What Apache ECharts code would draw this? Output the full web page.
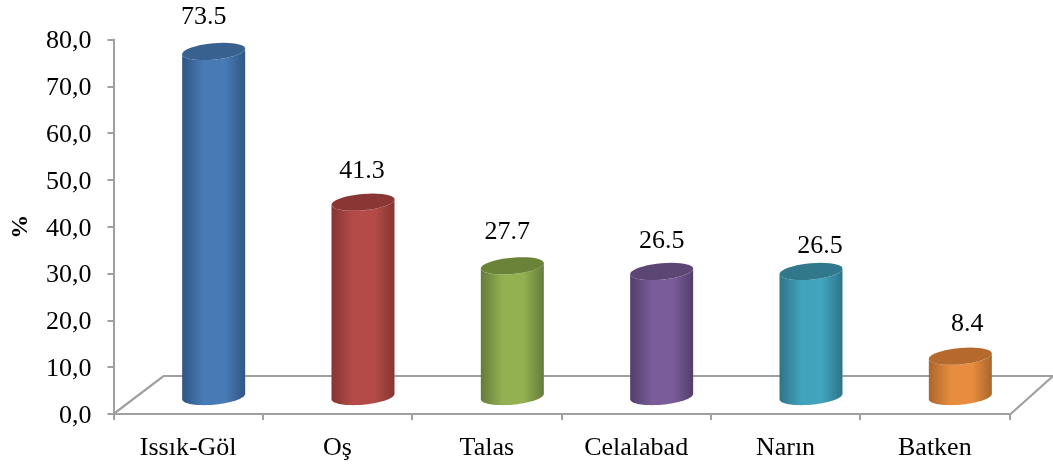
<!DOCTYPE html>
<html>
<head>
<meta charset="utf-8">
<style>
  html, body { margin: 0; padding: 0; background: #fff; }
  #main { width: 1053px; height: 464px; }
</style>
<script src="https://cdn.jsdelivr.net/npm/echarts@6/dist/echarts.min.js"></script>
</head>
<body>
<div id="main"></div>
<script>
const categories = ['Issık-Göl', 'Oş', 'Talas', 'Celalabad', 'Narın', 'Batken'];
const values = [73.5, 41.3, 27.7, 26.5, 26.5, 8.4];
const tickLabels = ['0,0', '10,0', '20,0', '30,0', '40,0', '50,0', '60,0', '70,0', '80,0'];

// edge, middle, top cap
const barColors = [
    ['#305685', '#487bb6', '#38618f'],
    ['#843533', '#b54b48', '#8a3634'],
    ['#667b3b', '#93b151', '#6b8239'],
    ['#523e6c', '#7a5c9a', '#5c4673'],
    ['#2e7488', '#42a3bd', '#31788c'],
    ['#ab662c', '#e88d40', '#b5692c']
];
// data labels were moved by hand in the original
const labelNudge = [[-10, -34], [-1, -31], [-5, -34], [0, -30], [9, -25], [7, -32]];

const depthX = 25.5, depthY = -18.5, baseY = -17.5;
const radiusX = 31.5, radiusY = 8.2, tilt = 2.7;
const gridGrey = '#a0a0a0';

// tilted ellipse, from angle a to angle b
const arc = (cx, cy, a, b) => {
    let pts = [];
    for (let i = 0; i <= 40; i++) {
        let t = a + (b - a) * i / 40;
        pts.push([cx + radiusX * Math.cos(t), cy + radiusY * Math.sin(t) - tilt * Math.cos(t)]);
    }
    return pts;
};

const renderCylinder = (params, api) => {
    let i = params.dataIndex;
    let top = api.coord([api.value(0), api.value(1)]);
    let zero = api.coord([api.value(0), 0]);
    let cx = top[0] + depthX;
    let topY = top[1] + depthY;
    let botY = zero[1] + baseY;
    let c = barColors[i];
    // right side at the top, over the front of the bottom ellipse, left side back up
    let side = arc(cx, botY, 0, Math.PI).concat(arc(cx, topY, Math.PI, 0));
    return {
        type: 'group',
        children: [
            {
                type: 'polygon',
                shape: { points: side },
                style: {
                    fill: new echarts.graphic.LinearGradient(0, 0, 1, 0, [
                        { offset: 0, color: c[0] },
                        { offset: 0.35, color: c[1] },
                        { offset: 0.68, color: c[1] },
                        { offset: 1, color: c[0] }
                    ])
                }
            },
            {
                type: 'polygon',
                shape: { points: arc(cx, topY, 0, Math.PI * 2) },
                style: { fill: c[2] }
            },
            {
                type: 'text',
                style: {
                    x: cx + labelNudge[i][0],
                    y: topY + labelNudge[i][1],
                    text: String(api.value(1)),
                    font: '26px "Liberation Serif"',
                    fill: '#000',
                    align: 'center',
                    verticalAlign: 'middle'
                }
            }
        ]
    };
};

// floor of the 3d plot, hangs off the ends of the category axis
const renderFloor = (params, api) => {
    let g = params.coordSys;
    let bottom = g.y + g.height;
    let back = bottom - 38;
    return {
        type: 'polyline',
        shape: { points: [[g.x, bottom], [g.x + 50, back], [1053, back], [g.x + g.width, bottom + 1]] },
        style: { fill: 'none', stroke: gridGrey, lineWidth: 2.2 }
    };
};

const mychart = echarts.init(document.getElementById('main'));
mychart.setOption({
    animation: false,
    backgroundColor: '#fff',
    grid: { left: 113.5, right: 43.5, top: 39.5, bottom: 50, outerBoundsMode: 'none' },
    xAxis: {
        type: 'category',
        data: categories,
        offset: 1,
        axisLine: { lineStyle: { color: gridGrey, width: 2 } },
        axisTick: { show: true, length: 6, lineStyle: { color: gridGrey, width: 2 } },
        axisLabel: {
            interval: 0,
            margin: 20,
            color: '#000',
            fontFamily: 'Liberation Serif',
            fontSize: 26
        }
    },
    yAxis: {
        type: 'value',
        min: 0,
        max: 80,
        interval: 10,
        name: '%',
        nameLocation: 'middle',
        nameRotate: 90,
        nameGap: 81,
        nameTextStyle: {
            color: '#000',
            fontFamily: 'Liberation Serif',
            fontWeight: 'bold',
            fontSize: 24
        },
        splitLine: { show: false },
        axisLine: { show: true, lineStyle: { color: gridGrey, width: 2 } },
        axisTick: { show: true, length: 6, lineStyle: { color: gridGrey, width: 2 } },
        axisLabel: {
            margin: 22,
            formatter: (v) => '{t|' + tickLabels[v / 10] + '}',
            rich: {
                t: {
                    padding: [4, 0, 0, 0],
                    color: '#000',
                    fontFamily: 'Liberation Serif',
                    fontSize: 26
                }
            }
        }
    },
    series: [
        {
            type: 'custom',
            silent: true,
            z: 1,
            renderItem: renderFloor,
            data: [0]
        },
        {
            type: 'custom',
            z: 2,
            renderItem: renderCylinder,
            encode: { x: 0, y: 1 },
            data: values.map((v, i) => [i, v])
        }
    ]
});
window.addEventListener('resize', () => {
    mychart.resize();
});
</script>
</body>
</html>
